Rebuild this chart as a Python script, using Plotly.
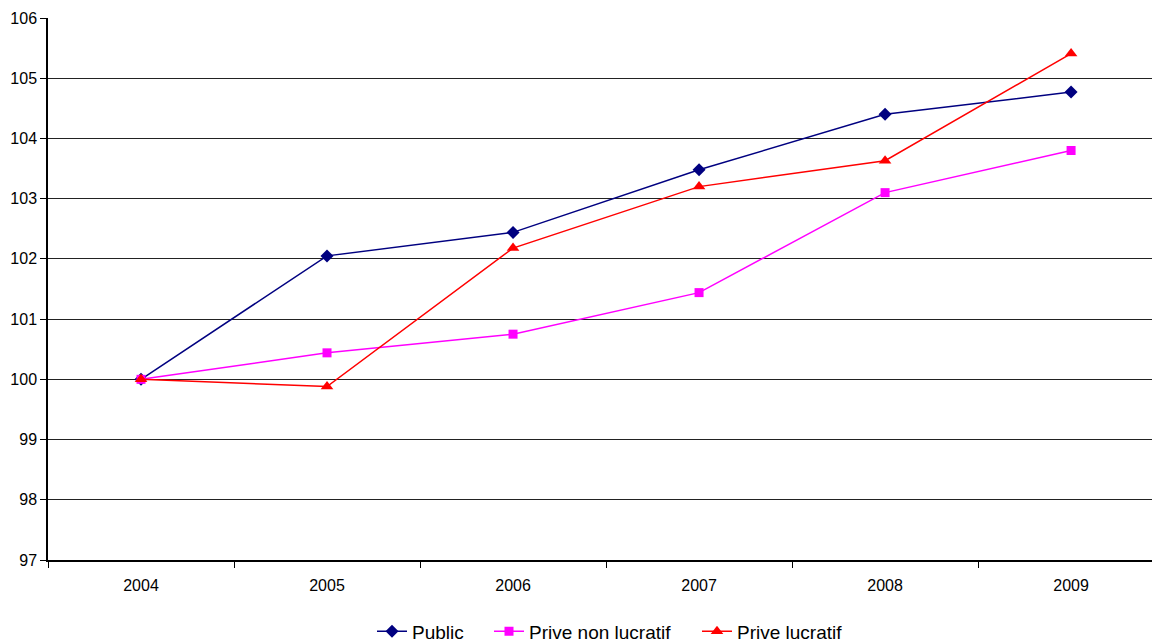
import plotly.graph_objects as go

# Index (base 100 in 2004) by hospital sector
years = ["2004", "2005", "2006", "2007", "2008", "2009"]
public = [100.0, 102.05, 102.44, 103.48, 104.40, 104.77]
prive_non_lucratif = [100.0, 100.44, 100.75, 101.44, 103.10, 103.80]
prive_lucratif = [100.0, 99.88, 102.18, 103.20, 103.63, 105.41]

y_ticks = [97, 98, 99, 100, 101, 102, 103, 104, 105, 106]

fig = go.Figure()
fig.add_trace(go.Scatter(
    x=years, y=public, name="Public", mode="lines+markers",
    line=dict(color="#000080", width=1.5),
    marker=dict(symbol="diamond", size=10, color="#000080"),
    legend="legend",
))
fig.add_trace(go.Scatter(
    x=years, y=prive_non_lucratif, name="Prive non lucratif", mode="lines+markers",
    line=dict(color="#FF00FF", width=1.5),
    marker=dict(symbol="square", size=9, color="#FF00FF"),
    legend="legend2",
))
fig.add_trace(go.Scatter(
    x=years, y=prive_lucratif, name="Prive lucratif", mode="lines+markers",
    line=dict(color="#FF0000", width=1.5),
    marker=dict(symbol="triangle-up", size=11, color="#FF0000"),
    legend="legend3",
))

legend_common = dict(
    orientation="h", xref="container", yref="container",
    xanchor="left", y=0.018, yanchor="middle",
    font=dict(size=19), bgcolor="rgba(0,0,0,0)",
)

fig.update_layout(
    width=1152, height=643,
    margin=dict(l=48, r=0, t=18, b=83),
    paper_bgcolor="white", plot_bgcolor="white",
    font=dict(family="Liberation Sans, Arial, sans-serif", color="black", size=16),
    showlegend=True,
    legend=dict(x=372 / 1152, **legend_common),
    legend2=dict(x=489 / 1152, **legend_common),
    legend3=dict(x=697 / 1152, **legend_common),
    xaxis=dict(
        type="category", range=[-0.5, 5.435],
        showline=True, linecolor="black", linewidth=1.5,
        ticks="outside", tickson="boundaries", ticklen=6, tickcolor="black",
        showgrid=False, tickfont=dict(size=16), ticklabelstandoff=10,
    ),
    yaxis=dict(
        range=[97, 106], tickvals=y_ticks,
        showline=True, linecolor="black", linewidth=1.5,
        ticks="outside", ticklen=6, tickcolor="black",
        showgrid=True, gridcolor="#222222", gridwidth=1,
        zeroline=False, tickfont=dict(size=16),
    ),
)

fig.write_html("out.html")
